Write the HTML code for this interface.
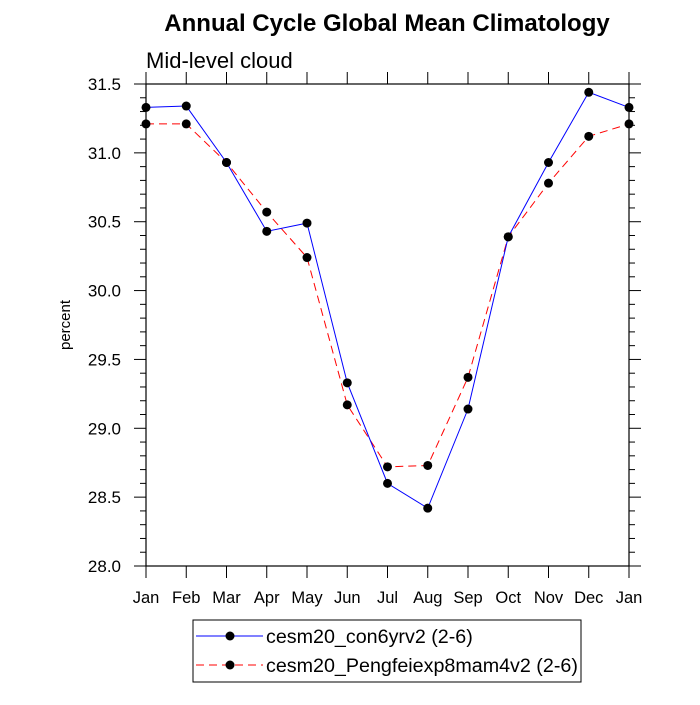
<!DOCTYPE html>
<html><head><meta charset="utf-8"><style>
body{margin:0;background:#fff}
svg text{font-family:"Liberation Sans",sans-serif}
</style></head><body>
<svg id="c" width="700" height="700" xmlns="http://www.w3.org/2000/svg">
<text x="387" y="31" font-size="24" font-weight="bold" text-anchor="middle">Annual Cycle Global Mean Climatology</text>
<text x="146" y="68" font-size="22">Mid-level cloud</text>
<text transform="translate(70,325) rotate(-90)" font-size="15" text-anchor="middle">percent</text>
<rect x="146" y="84" width="483" height="482" fill="none" stroke="#000" stroke-width="1.2"/>
<g id="axes"></g>
<g id="series"></g>
<g>
<rect x="193" y="620" width="388" height="62" fill="none" stroke="#000"/>
<g>
<line x1="196" y1="636" x2="263" y2="636" stroke="#0000ff" stroke-width="1"/>
<circle cx="230" cy="636" r="4.5" fill="#000"/>
<text x="266" y="643" font-size="19.7">cesm20_con6yrv2 (2-6)</text></g>
<g>
<line x1="196" y1="665" x2="263" y2="665" stroke="#ff0000" stroke-width="1" stroke-dasharray="8,5"/>
<circle cx="230" cy="665" r="4.5" fill="#000"/>
<text x="266" y="672" font-size="19.7">cesm20_Pengfeiexp8mam4v2 (2-6)</text></g>
</g>
</svg>
<script>
const months=["Jan","Feb","Mar","Apr","May","Jun","Jul","Aug","Sep","Oct","Nov","Dec","Jan"];
const blueValues=[31.33,31.34,30.93,30.43,30.49,29.33,28.60,28.42,29.14,30.39,30.93,31.44,31.33];
const redValues=[31.21,31.21,30.93,30.57,30.24,29.17,28.72,28.73,29.37,30.39,30.78,31.12,31.21];
const yTicks=[28.0,28.5,29.0,29.5,30.0,30.5,31.0,31.5];
const NS="http://www.w3.org/2000/svg";
const X0=146,X1=629,Y0=566,Y1=84,YMIN=28,YMAX=31.5;
function xs(i){return X0+(X1-X0)*i/(months.length-1);}
function ys(v){return Y0-(v-YMIN)/(YMAX-YMIN)*(Y0-Y1);}
function mk(t,a,p){const e=document.createElementNS(NS,t);for(const k in a)e.setAttribute(k,a[k]);p.appendChild(e);return e;}
const ax=document.getElementById('axes');
for(let v=YMIN;v<=YMAX+1e-9;v+=0.1){
  const y=ys(v);const major=Math.abs(v*2-Math.round(v*2))<1e-6;const L=major?12:6;
  const t1=mk('line',{x1:X0-L,y1:y,x2:X0,y2:y,stroke:'#000'},ax);
  
  
  const t2=mk('line',{x1:X1,y1:y,x2:X1+L,y2:y,stroke:'#000'},ax);
  
  
}
yTicks.forEach(v=>{const t=mk('text',{x:X0-25,y:ys(v)+6,'font-size':17,'text-anchor':'end'},ax);t.textContent=v.toFixed(1);
  
  });
months.forEach((m,i)=>{const x=xs(i);
  const a=mk('line',{x1:x,y1:Y0,x2:x,y2:Y0+12,stroke:'#000'},ax);
  
  
  const b=mk('line',{x1:x,y1:Y1-12,x2:x,y2:Y1,stroke:'#000'},ax);
  
  
  const t=mk('text',{x:x,y:Y0+37,'font-size':16.5,'text-anchor':'middle'},ax);t.textContent=m;
  
  });
const sg=document.getElementById('series');
function draw(vals,color,dash,name){
  const g=mk('g',{},sg);
  
  
  const pts=vals.map((v,i)=>xs(i)+','+ys(v)).join(' ');
  const pl=mk('polyline',{points:pts,fill:'none',stroke:color,'stroke-width':1,'stroke-dasharray':dash},g);
  
  
  vals.forEach((v,i)=>{const c=mk('circle',{cx:xs(i),cy:ys(v),r:4.5,fill:'#000'},g);
    
    });
}
draw(redValues,'#ff0000','8,5','series-pengfei');
draw(blueValues,'#0000ff','none','series-con6yrv2');
</script>
</body></html>
